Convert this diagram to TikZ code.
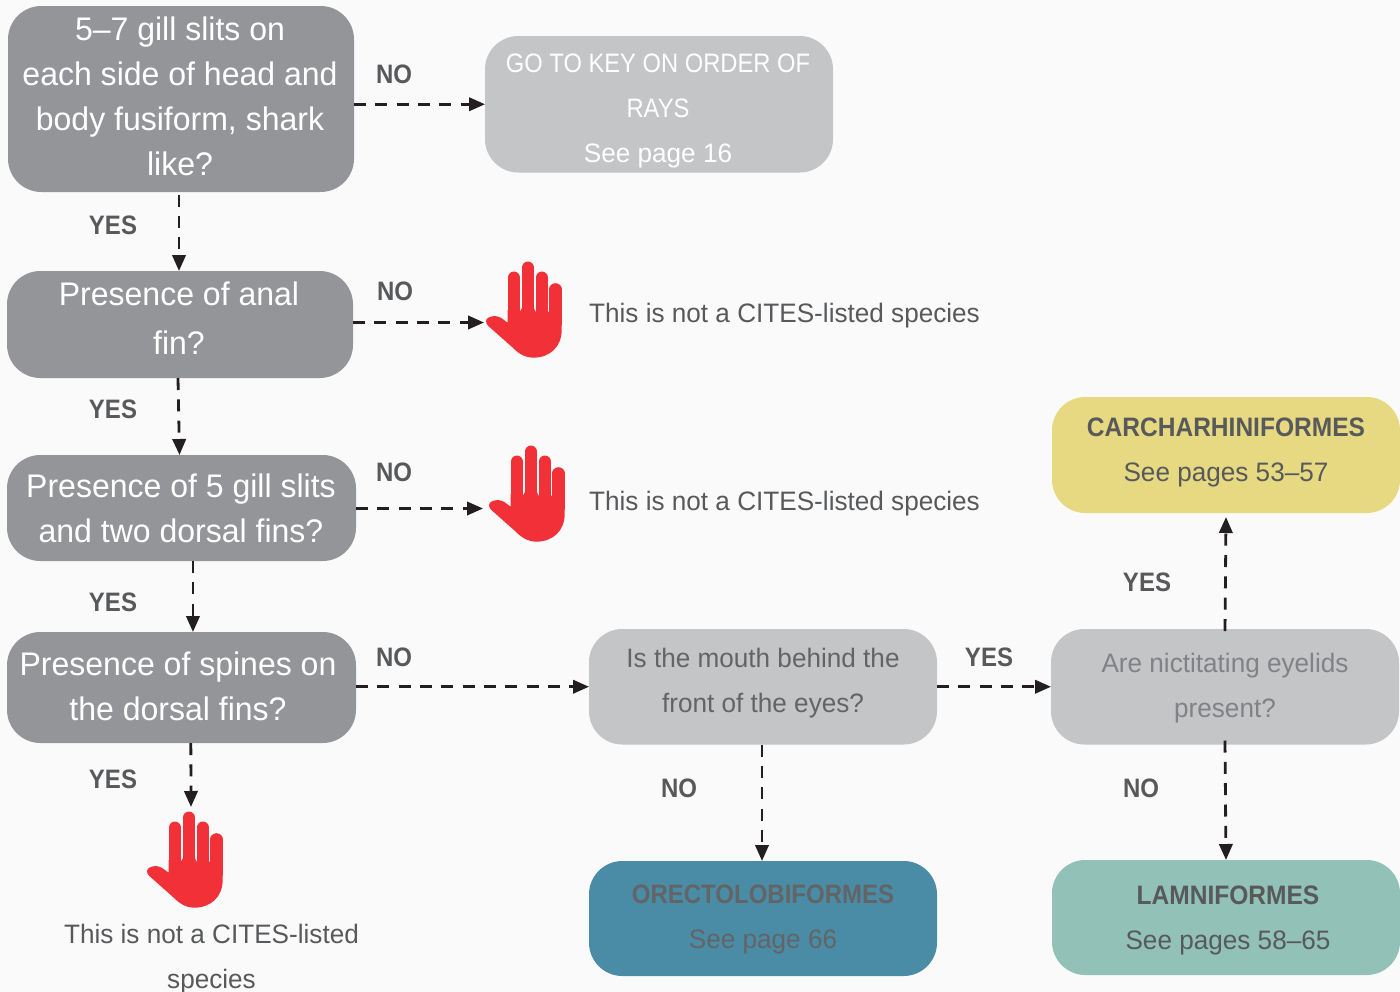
\documentclass[tikz,border=0pt]{standalone}
\usepackage{fontspec}
\setmainfont[FakeStretch=0.98]{Liberation Sans}
\newfontfamily\capsfont[FakeStretch=0.89]{Liberation Sans}
\newfontfamily\labfont[FakeStretch=0.9]{Liberation Sans}
\newfontfamily\headfont[FakeStretch=0.92]{Liberation Sans}
\usetikzlibrary{arrows.meta,calc}
\definecolor{bgc}{HTML}{FAFAFA}
\definecolor{darkbox}{HTML}{939598}
\definecolor{lightbox}{HTML}{C4C5C7}
\definecolor{yellowbox}{HTML}{E6D982}
\definecolor{bluebox}{HTML}{4A8CA6}
\definecolor{tealbox}{HTML}{91C1B7}
\definecolor{txt}{HTML}{58595B}
\definecolor{softtxt}{HTML}{636466}
\definecolor{midtxt}{HTML}{808285}
\definecolor{handred}{HTML}{F23037}
\definecolor{ink}{HTML}{231F20}
\newcommand{\bx}[6]{\node[boxbase,#6,minimum width={(#4-#2)*0.75pt},minimum height={(#5-#3)*0.75pt}] (#1) at ({(#2+#4)/2},{(#3+#5)/2}) {};}
\newcommand{\handshape}[3]{%
\begin{scope}[shift={(#1,#2)},x=0.25pt,y=-0.25pt]
\draw[handfinger] (131.5,83)--(131.5,220);
\draw[handfinger] (173.5,53)--(173.5,220);
\draw[handfinger] (215,83)--(215,220);
\draw[handfinger] (256.5,118)--(256.5,220);
\fill[handred] (113,180)--(150,185)--(155,175)--(192,175)--(197,185)--(233,185)--(238,185)--(275,185)--(275,240) .. controls (275,290) and (240,323) .. (190,323) .. controls (160,323) and (140,305) .. (125,290) -- (55,228) .. controls (45,218) and (47,208) .. (55,203) .. controls (70,195) and (85,198) .. (95,205) -- (113,218) -- cycle;
\coordinate (#3) at (0,0);
\end{scope}}
\tikzset{
 boxbase/.style={rounded corners=25pt,inner sep=0pt,outer sep=0pt},
 dark/.style={fill=darkbox},
 light/.style={fill=lightbox},
 yellowfill/.style={fill=yellowbox},
 bluefill/.style={fill=bluebox},
 tealfill/.style={fill=tealbox},
 big/.style={text=white,align=center,font=\fontsize{24.5}{33.75}\selectfont,inner sep=0pt},
 bigtall/.style={text=white,align=center,font=\fontsize{24.5}{36.75}\selectfont,inner sep=0pt},
 small/.style={align=center,font=\fontsize{20}{33.75}\selectfont,inner sep=0pt,text=txt},
 lab/.style={font=\fontsize{20}{24}\labfont\bfseries,text=txt,inner sep=0pt},
 conn/.style={draw=ink,line width=2.1pt,dash pattern=on 9pt off 7pt,-{Stealth[length=12pt,width=10pt,inset=0pt]}},
 handfinger/.style={draw=handred,line width=9.2pt,line cap=round},
}
\begin{document}
\begin{tikzpicture}[x=0.75pt,y=-0.75pt]
\useasboundingbox (0,0) rectangle (1400,992);
\fill[bgc] (0,0) rectangle (1400,992);
\bx{bA}{8}{6}{354}{192}{dark}
\bx{bB}{7}{271}{353}{378}{dark}
\bx{bC}{7}{455}{356}{561}{dark}
\bx{bD}{7}{632}{356}{743}{dark}
\bx{go}{485}{36}{833}{172.5}{light}
\bx{mouth}{589}{629}{937}{744.5}{light}
\bx{nict}{1051}{629}{1399}{744.5}{light}
\bx{carch}{1052}{397}{1400}{513}{yellowfill}
\bx{orect}{589}{861}{937}{976}{bluefill}
\bx{lamn}{1052}{860}{1400}{975}{tealfill}
\node[big] (tA) at (180,96.5) {5–7 gill slits on\\each side of head and\\body fusiform, shark\\like?};
\node[bigtall] (tB) at (179,318.5) {Presence of anal\\fin?};
\node[big] (tC) at (181,508.5) {Presence of 5 gill slits\\and two dorsal fins?};
\node[big] (tD) at (178,686.5) {Presence of spines on\\the dorsal fins?};
\node[small,text=white] (tgo) at (658,111) {{\capsfont GO TO KEY ON ORDER OF}\\{\capsfont RAYS}\\See page 16};
\node[small,text=softtxt] (tmouth) at (763,683.5) {Is the mouth behind the\\front of the eyes?};
\node[small,text=midtxt] (tnict) at (1225,688.5) {Are nictitating eyelids\\present?};
\node[small] (tcarch) at (1226,452.5) {{\headfont\bfseries CARCHARHINIFORMES}\\See pages 53–57};
\node[small,text=softtxt] (torect) at (763,919) {{\labfont\bfseries ORECTOLOBIFORMES}\\See page 66};
\node[small] (tlamn) at (1228,920) {{\headfont\bfseries LAMNIFORMES}\\See pages 58–65};
\handshape{470}{250}{hA}
\handshape{473}{434}{hB}
\handshape{131}{800}{hC}
\coordinate (hAtip) at (484,322.5);
\coordinate (hBtip) at (483,508.5);
\coordinate (hCtip) at (191,807);
\node[small] (nA) at (784.5,316) {This is not a CITES-listed species};
\node[small] (nB) at (784.5,504) {This is not a CITES-listed species};
\node[small] (nC) at (211.5,959.5) {This is not a CITES-listed\\species};
\node[lab] (l1) at (394,74) {NO};
\node[lab] (l2) at (395,291) {NO};
\node[lab] (l3) at (394,472) {NO};
\node[lab] (l4) at (394,657) {NO};
\node[lab] (l5) at (113,225) {YES};
\node[lab] (l6) at (113,409) {YES};
\node[lab] (l7) at (113,602) {YES};
\node[lab] (l8) at (113,779) {YES};
\node[lab] (l9) at (989,657) {YES};
\node[lab] (l10) at (1147,582) {YES};
\node[lab] (l11) at (679,788) {NO};
\node[lab] (l12) at (1141,788) {NO};
\draw[conn] (bA.east |- go.west) -- (go.west);
\draw[conn] ([xshift=-1.5pt,yshift=-2pt]bA.south) -- ([xshift=-0.75pt]bB.north);
\draw[conn] (bB.east |- hAtip) -- (hAtip);
\draw[conn] ([xshift=-1.5pt]bB.south) -- ([xshift=-1.5pt]bC.north);
\draw[conn] (bC.east |- hBtip) -- (hBtip);
\draw[conn] ([xshift=8.6pt]bC.south) -- ([xshift=8.6pt]bD.north);
\draw[conn] (bD.east |- mouth.west) -- (mouth.west);
\draw[conn] ([xshift=7pt]bD.south) -- (hCtip);
\draw[conn] (mouth.east) -- (nict.west);
\draw[conn] ([xshift=-0.75pt]mouth.south) -- ([xshift=-0.75pt]orect.north);
\draw[conn] ([yshift=-1.5pt]nict.north) -- ([yshift=-3pt]carch.south);
\draw[conn] ([yshift=3pt]nict.south) -- (lamn.north);
\end{tikzpicture}
\end{document}
